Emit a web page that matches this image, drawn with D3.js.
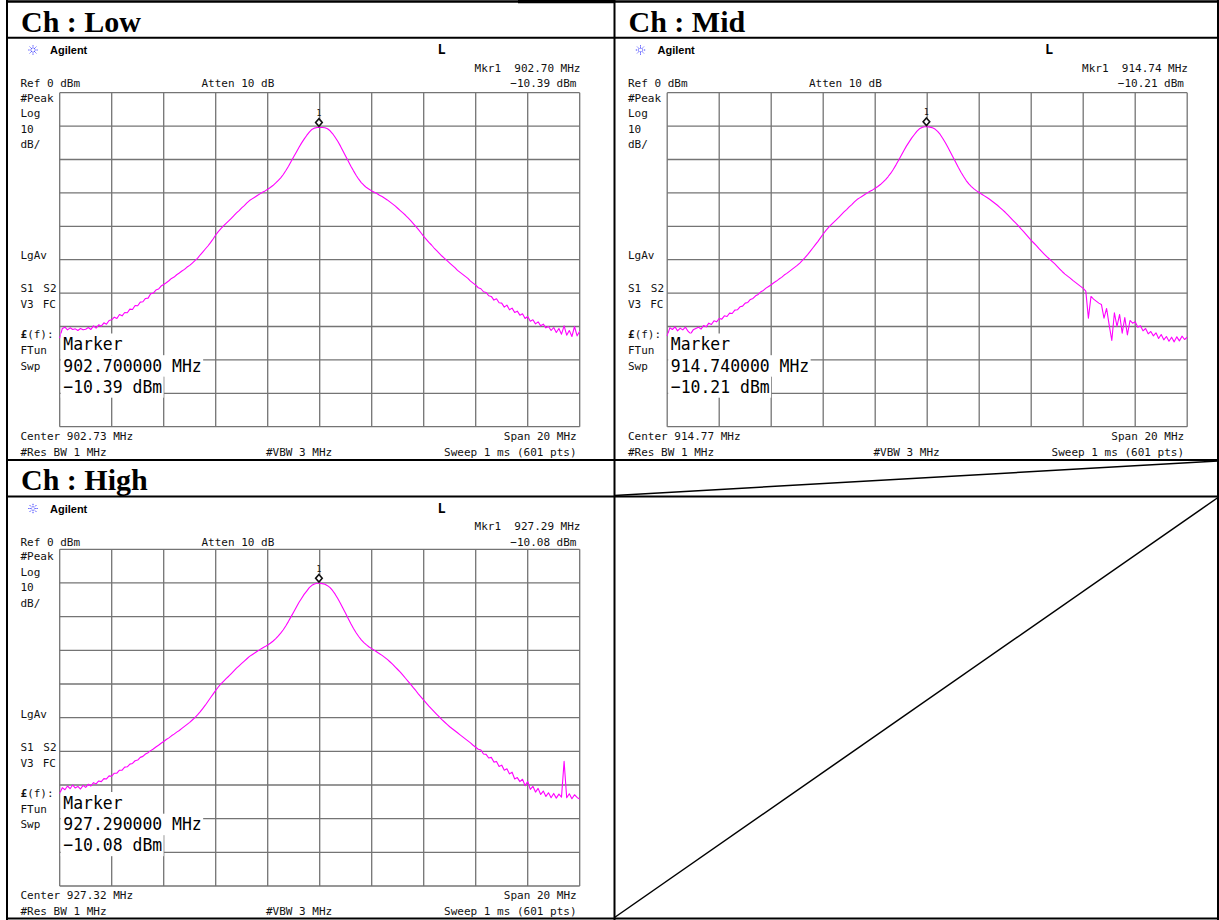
<!DOCTYPE html>
<html><head><meta charset="utf-8">
<script src="https://cdn.jsdelivr.net/npm/d3@7"></script>
<style>
body{margin:0;background:#fff;}
svg text{white-space:pre;}
</style></head><body>
<svg id="c" width="1219" height="920"></svg>
<script>
// ---------------- DATA ----------------
const channels = ["Low", "Mid", "High"];
const centerFreqs = [902.73, 914.77, 927.32];   // MHz
const markerFreqs = [902.70, 914.74, 927.29];   // MHz
const markerLevels = [-10.39, -10.21, -10.08];  // dBm
const spanMHz = 20;
const refLevel = 0;       // dBm
const dbPerDiv = 10;
const sweepStep = 0.1;    // MHz between plotted trace samples
const infoLabels = ["Ref 0 dBm", "Atten 10 dB", "#Peak", "Log", "10", "dB/", "LgAv", "FTun", "Swp",
                    "Span 20 MHz", "#Res BW 1 MHz", "#VBW 3 MHz", "Sweep 1 ms (601 pts)"];

// trace levels (dBm), from center-10 MHz to center+10 MHz, every 0.1 MHz
const lowTrace = [
-73.5,-70.6,-70.2,-71.0,-70.4,-70.9,-70.7,-71.2,-70.6,-71.0,
-70.8,-70.3,-70.9,-69.8,-70.5,-69.5,-69.9,-68.9,-69.3,-68.2,
-68.0,-67.2,-67.6,-66.4,-66.8,-65.8,-65.9,-64.8,-64.9,-63.7,
-63.8,-62.7,-62.6,-61.6,-61.5,-60.2,-60.0,-59.1,-58.8,-57.9,
-57.4,-56.9,-56.3,-55.6,-55.2,-54.5,-54.0,-53.4,-52.9,-52.2,
-51.7,-51.0,-50.3,-49.6,-48.6,-47.7,-46.8,-45.9,-44.9,-43.8,
-42.6,-41.6,-40.7,-39.9,-39.1,-38.4,-37.6,-36.8,-36.0,-35.3,
-34.5,-33.8,-33.0,-32.3,-31.8,-31.3,-30.8,-30.3,-29.8,-29.4,
-28.9,-28.4,-27.8,-27.1,-26.3,-25.5,-24.5,-23.3,-22.0,-20.6,
-19.2,-17.8,-16.4,-15.1,-13.9,-12.8,-11.8,-11.0,-10.6,-10.4,
-10.4,
-10.4,-10.5,-10.8,-11.4,-12.3,-13.4,-14.6,-16.0,-17.5,-19.0,
-20.5,-22.0,-23.4,-24.7,-25.9,-26.9,-27.7,-28.4,-28.9,-29.4,
-29.8,-30.2,-30.7,-31.1,-31.6,-32.1,-32.7,-33.3,-33.9,-34.6,
-35.3,-36.0,-36.7,-37.5,-38.3,-39.2,-40.1,-41.0,-42.0,-43.0,
-43.9,-44.8,-45.6,-46.5,-47.3,-48.1,-48.9,-49.6,-50.3,-51.0,
-51.7,-52.4,-53.2,-53.8,-54.4,-55.0,-55.6,-56.4,-57.0,-57.6,
-58.4,-58.7,-59.6,-59.8,-60.8,-61.0,-62.1,-61.7,-62.9,-63.0,
-64.2,-63.6,-65.0,-64.5,-65.8,-65.4,-66.6,-66.2,-67.6,-67.0,
-68.4,-68.0,-69.2,-68.6,-69.8,-69.3,-70.4,-70.0,-71.2,-70.3,
-71.8,-70.6,-72.3,-69.8,-72.6,-71.2,-73.0,-70.0,-72.8,-71.4
];
const midTrace = [
-72.8,-70.4,-70.9,-70.1,-71.3,-70.5,-71.0,-70.2,-71.4,-72.2,
-71.0,-70.6,-70.2,-70.8,-69.7,-70.1,-69.0,-69.4,-68.3,-68.6,
-67.6,-67.8,-66.8,-67.0,-66.0,-66.1,-65.1,-65.0,-64.1,-63.9,
-63.0,-62.8,-61.9,-61.6,-60.8,-60.4,-59.6,-59.2,-58.5,-58.0,
-57.5,-56.9,-56.4,-55.8,-55.3,-54.6,-54.1,-53.5,-52.9,-52.3,
-51.7,-51.0,-50.2,-49.4,-48.5,-47.5,-46.5,-45.5,-44.5,-43.4,
-42.3,-41.3,-40.4,-39.6,-38.8,-38.1,-37.3,-36.5,-35.7,-35.0,
-34.2,-33.5,-32.7,-32.0,-31.5,-31.0,-30.5,-30.0,-29.5,-29.1,
-28.6,-28.1,-27.5,-26.8,-26.0,-25.1,-24.1,-22.9,-21.6,-20.2,
-18.8,-17.4,-16.0,-14.8,-13.6,-12.6,-11.6,-10.8,-10.4,-10.2,
-10.2,
-10.3,-10.5,-10.9,-11.6,-12.5,-13.7,-15.0,-16.4,-17.9,-19.4,
-20.9,-22.4,-23.8,-25.1,-26.3,-27.3,-28.1,-28.8,-29.4,-29.9,
-30.4,-30.9,-31.4,-31.9,-32.5,-33.1,-33.7,-34.4,-35.1,-35.8,
-36.6,-37.4,-38.2,-39.0,-39.8,-40.7,-41.5,-42.4,-43.3,-44.2,
-45.0,-45.8,-46.7,-47.5,-48.3,-49.1,-49.8,-50.5,-51.2,-52.0,
-52.8,-53.6,-54.3,-54.9,-55.5,-56.2,-56.8,-57.4,-58.0,-58.6,
-59.4,-67.5,-61.0,-61.8,-62.4,-63.0,-63.4,-67.5,-64.6,-69.6,
-74.2,-65.9,-70.0,-66.4,-72.0,-67.3,-72.5,-68.2,-69.0,-68.6,
-70.2,-69.8,-71.3,-70.6,-72.2,-71.5,-72.8,-71.9,-73.6,-72.4,
-74.0,-73.0,-74.4,-73.2,-74.6,-73.1,-74.3,-72.9,-73.9,-73.2
];
const highTrace = [
-72.5,-70.8,-71.4,-70.3,-71.1,-70.0,-70.9,-70.4,-71.2,-70.1,
-70.7,-69.8,-70.3,-69.3,-69.7,-68.8,-69.0,-68.1,-68.2,-67.3,
-67.4,-66.5,-66.5,-65.6,-65.6,-64.7,-64.6,-63.8,-63.6,-62.8,
-62.6,-61.8,-61.5,-60.8,-60.4,-59.8,-59.3,-58.7,-58.2,-57.6,
-57.1,-56.5,-56.0,-55.4,-54.9,-54.3,-53.8,-53.2,-52.6,-52.0,
-51.4,-50.7,-50.0,-49.2,-48.3,-47.3,-46.3,-45.2,-44.1,-43.0,
-41.9,-40.9,-40.0,-39.2,-38.4,-37.7,-36.9,-36.1,-35.3,-34.6,
-33.9,-33.2,-32.5,-31.8,-31.3,-30.8,-30.3,-29.8,-29.3,-28.9,
-28.4,-27.9,-27.3,-26.6,-25.8,-24.9,-23.9,-22.7,-21.4,-20.0,
-18.6,-17.2,-15.8,-14.6,-13.4,-12.4,-11.4,-10.7,-10.3,-10.1,
-10.1,
-10.2,-10.4,-10.8,-11.4,-12.3,-13.4,-14.7,-16.1,-17.6,-19.1,
-20.6,-22.1,-23.5,-24.8,-25.9,-26.9,-27.7,-28.4,-29.0,-29.5,
-30.0,-30.5,-31.0,-31.5,-32.1,-32.7,-33.4,-34.1,-34.9,-35.7,
-36.5,-37.4,-38.3,-39.2,-40.1,-41.1,-42.0,-43.0,-43.9,-44.8,
-45.7,-46.6,-47.4,-48.2,-49.0,-49.8,-50.6,-51.3,-52.0,-52.7,
-53.3,-53.9,-54.5,-55.1,-55.7,-56.3,-56.9,-57.5,-58.2,-58.8,
-59.4,-59.6,-60.8,-60.9,-62.0,-61.8,-63.2,-63.0,-64.5,-64.1,
-65.6,-65.2,-66.7,-66.2,-68.2,-67.8,-69.0,-68.3,-70.2,-69.0,
-71.3,-70.4,-72.1,-71.0,-72.8,-71.8,-73.4,-72.3,-73.8,-72.5,
-73.9,-72.7,-73.6,-63.0,-73.8,-72.6,-74.1,-72.9,-73.7,-74.2
];
const traces = [lowTrace, midTrace, highTrace];

// ---------------- LAYOUT ----------------
const panels = [
  {ox: 0,     oy: 0,     top: 92.7,  bottom: 426.7},
  {ox: 607.5, oy: 0,     top: 92.7,  bottom: 426.7},
  {ox: 0,     oy: 458.5, top: 549.3, bottom: 886}
];
const svg = d3.select("#c");
const MONO = "'DejaVu Sans Mono', monospace";

function txt(g, x, y, s, opt = {}) {
  const t = g.append("text").attr("x", x).attr("y", y).text(s)
    .attr("font-family", opt.family || MONO)
    .attr("font-size", opt.size || 11)
    .attr("fill", opt.fill || "#111");
  if (opt.anchor) t.attr("text-anchor", opt.anchor);
  if (opt.weight) t.attr("font-weight", opt.weight);
  if (opt.len) t.attr("textLength", opt.len).attr("lengthAdjust", "spacingAndGlyphs");
  return t;
}
const fmtLvl = v => (v < 0 ? "\u2212" : "") + Math.abs(v).toFixed(2);

panels.forEach((p, k) => {
  const g = svg.append("g");
  const ox = p.ox, oy = p.oy;
  const c = centerFreqs[k];
  const left = 59.7 + ox, right = 579.7 + ox;

  // title
  txt(g, 21 + ox, 31.7 + oy, "Ch : " + channels[k],
      {family: "'Liberation Serif','Times New Roman',serif", size: 30, weight: "bold", fill: "#000"});

  // Agilent logo
  const ic = g.append("g").attr("transform", `translate(${33 + ox},${50 + oy})`);
  d3.range(8).forEach(a => {
    const ang = a * Math.PI / 4;
    ic.append("line").attr("x1", Math.cos(ang) * 1.5).attr("y1", Math.sin(ang) * 1.5)
      .attr("x2", Math.cos(ang) * 5.5).attr("y2", Math.sin(ang) * 5.5)
      .attr("stroke", "#3a3aff").attr("stroke-width", 1).attr("stroke-dasharray", "1.2,0.8");
  });
  txt(g, 50 + ox, 54 + oy, "Agilent", {family: "'Liberation Sans',Arial,sans-serif", size: 11, weight: "bold", fill: "#000"});
  txt(g, 437.5 + ox, 54 + oy, "L", {size: 13.5, weight: "bold", fill: "#000"});

  // header texts
  txt(g, 580.5 + ox, 71.7 + oy, "Mkr1  " + markerFreqs[k].toFixed(2) + " MHz", {anchor: "end"});
  txt(g, 20.5 + ox, 87.3 + oy, infoLabels[0]);
  txt(g, 201.5 + ox, 87.3 + oy, infoLabels[1]);
  txt(g, 576.5 + ox, 87.3 + oy, fmtLvl(markerLevels[k]) + " dBm", {anchor: "end"});

  // left column labels
  txt(g, 20.5 + ox, 101.7 + oy, infoLabels[2]);
  txt(g, 20.5 + ox, 117.3 + oy, infoLabels[3]);
  txt(g, 20.5 + ox, 132.7 + oy, infoLabels[4]);
  txt(g, 20.5 + ox, 148.3 + oy, infoLabels[5]);
  txt(g, 20.5 + ox, 259.3 + oy, infoLabels[6]);
  txt(g, 20.5 + ox, 292.3 + oy, "S1");
  txt(g, 43.3 + ox, 292.3 + oy, "S2");
  txt(g, 20.5 + ox, 308.3 + oy, "V3");
  txt(g, 42.7 + ox, 308.3 + oy, "FC");
  const ft = txt(g, 20.5 + ox, 338.3 + oy, "");
  ft.append("tspan").attr("font-weight", "bold").text("\u00a3");
  ft.append("tspan").text("(f):");
  txt(g, 20.5 + ox, 354.3 + oy, infoLabels[7]);
  txt(g, 20.5 + ox, 369.7 + oy, infoLabels[8]);

  // footer texts
  txt(g, 20.5 + ox, 440 + oy, "Center " + c.toFixed(2) + " MHz");
  txt(g, 576.7 + ox, 440 + oy, infoLabels[9], {anchor: "end"});
  txt(g, 20.5 + ox, 456 + oy, infoLabels[10]);
  txt(g, 266 + ox, 456 + oy, infoLabels[11]);
  txt(g, 576.5 + ox, 456 + oy, infoLabels[12], {anchor: "end"});

  // scales
  const x = d3.scaleLinear().domain([c - spanMHz / 2, c + spanMHz / 2]).range([left, right]);
  const y = d3.scaleLinear().domain([refLevel - 10 * dbPerDiv, refLevel]).range([p.bottom, p.top]);

  // graticule: 10 x 10 divisions
  const gridG = g.append("g").attr("stroke", "#747474").attr("stroke-width", 1.3).attr("fill", "none");
  d3.range(11).forEach(i => {
    const f = c - spanMHz / 2 + i * spanMHz / 10;
    gridG.append("line").attr("x1", x(f)).attr("x2", x(f)).attr("y1", p.top).attr("y2", p.bottom);
  });
  d3.range(11).forEach(i => {
    const v = refLevel - i * dbPerDiv;
    gridG.append("line").attr("x1", left).attr("x2", right).attr("y1", y(v)).attr("y2", y(v));
  });

  // trace
  const tr = traces[k];
  const line = d3.line()
    .x((d, i) => x(c - spanMHz / 2 + i * sweepStep))
    .y(d => y(d));
  g.append("path").datum(tr).attr("d", line)
    .attr("fill", "none").attr("stroke", "#ff00ff").attr("stroke-width", 1.1).attr("stroke-linejoin", "round");

  // marker diamond
  const mx = x(markerFreqs[k]), my = y(markerLevels[k]) - 5;
  g.append("path").attr("d", `M${mx},${my - 3.8}L${mx + 3.3},${my}L${mx},${my + 3.8}L${mx - 3.3},${my}Z`)
    .attr("fill", "#fff").attr("stroke", "#111").attr("stroke-width", 1.6);
  txt(g, mx, my - 6.5, "1", {size: 8, anchor: "middle"});

  // marker readout box
  const lines = ["Marker", markerFreqs[k].toFixed(6) + " MHz", fmtLvl(markerLevels[k]) + " dBm"];
  const bases = [350, 371.7, 392.7];
  lines.forEach((s, i) => {
    const w = s.length * 9.89;
    g.append("rect").attr("x", left + 1).attr("y", bases[i] + oy - 16.5)
      .attr("width", w + 4).attr("height", 21.5).attr("fill", "#fff");
  });
  lines.forEach((s, i) => {
    txt(g, 63.3 + ox, bases[i] + oy, s, {size: 18, len: s.length * 9.89, fill: "#000"});
  });
});

// ---------------- TABLE ----------------
const tb = svg.append("g").attr("stroke", "#000").attr("stroke-width", 2).attr("fill", "none");
const hl = (x1, x2, yy, w) => tb.append("line").attr("x1", x1).attr("x2", x2).attr("y1", yy).attr("y2", yy).attr("stroke-width", w || 2);
const vl = (xx, y1, y2, w) => tb.append("line").attr("x1", xx).attr("x2", xx).attr("y1", y1).attr("y2", y2).attr("stroke-width", w || 2);
hl(6, 1219, 1.5, 2.5);
hl(518, 614, 1.5, 3.5);
hl(6, 1219, 37.8);
hl(6, 1219, 460);
hl(6, 1219, 496.5);
hl(6, 1219, 918.5);
vl(7, 0, 920);
vl(614.5, 0, 920);
vl(1218, 0, 920);
tb.append("line").attr("x1", 614.5).attr("y1", 495.5).attr("x2", 1218).attr("y2", 461).attr("stroke-width", 1.5);
tb.append("line").attr("x1", 614.5).attr("y1", 917.5).attr("x2", 1218).attr("y2", 497.5).attr("stroke-width", 1.5);
</script>
</body></html>
